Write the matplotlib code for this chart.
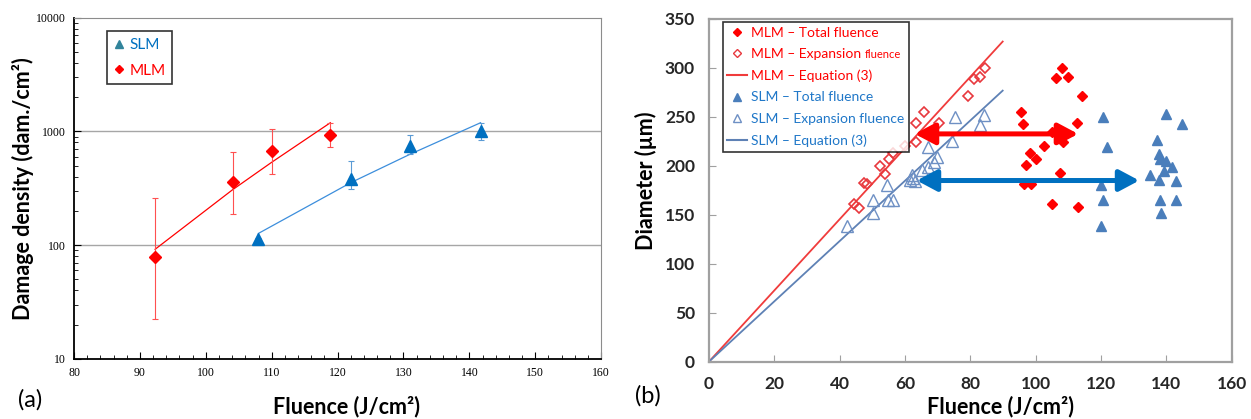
import matplotlib
matplotlib.use("Agg")
import matplotlib.pyplot as plt
from matplotlib.lines import Line2D
from matplotlib.ticker import MultipleLocator, LogLocator, NullFormatter

# ---- panel (a): damage density vs fluence (log scale) ----
mlm_fluence = [92.3, 104.1, 110.0, 118.9]
mlm_density = [79, 357, 672, 930]
mlm_err_lo = [22.5, 189, 422, 729]
mlm_err_hi = [261, 655, 1050, 1191]
mlm_fit_f = [92.3, 104.0, 110.0, 118.9]
mlm_fit_d = [92, 305, 535, 1190]

slm_fluence = [107.9, 122.0, 131.0, 141.7]
slm_density = [113, 380, 748, 1009]
slm_err_lo = [110, 312, 629, 840]
slm_err_hi = [116, 546, 923, 1190]
slm_fit_f = [108.0, 122.0, 131.0, 141.7]
slm_fit_d = [127, 354, 629, 1190]

# ---- panel (b): diameter vs fluence ----
mlm_tot_f = [107.9, 106.2, 110.0, 114.1, 95.4, 96.2, 112.5, 104.9, 108.4, 102.5,
             98.3, 100.0, 96.9, 107.4, 96.5, 98.6, 104.9, 113.0]
mlm_tot_d = [299.7, 290, 290.5, 271.7, 255, 243, 244, 234.6, 224.4, 220.6,
             213.2, 207.4, 200.6, 192.4, 181.8, 181.8, 161, 157.7]
mlm_exp_f = [44.3, 45.8, 47.5, 48.5, 52.3, 53.9, 55.2, 56.4, 60.0, 63.4, 63.4,
             65.9, 70.4, 79.2, 81.1, 82.9, 84.5]
mlm_exp_d = [161.4, 157, 182.5, 181.2, 200, 192, 207.4, 213.5, 220.6, 243.5, 224.7,
             254.7, 244.1, 271.4, 288.8, 290.5, 299.7]
mlm_eq_f = [0, 89.9]
mlm_eq_d = [0, 326.9]

slm_tot_f = [120.7, 121.9, 120.0, 120.7, 120.0, 139.9, 144.7, 137.0, 137.7, 138.0,
             139.8, 141.6, 139.4, 135.0, 137.8, 142.9, 137.9, 142.9, 138.4]
slm_tot_d = [249.6, 219.6, 180.2, 165.2, 139, 252.7, 242.8, 226.5, 211.8, 207,
             205.3, 199.2, 194.8, 191, 185.6, 184.6, 165.2, 165.2, 152.2]
slm_exp_f = [42.2, 50.3, 50.3, 54.6, 54.9, 56.4, 61.5, 63.1, 62.0, 65.1, 66.9, 67.1,
             68.9, 69.7, 75.3, 74.3, 84.3, 83.0, 62.5]
slm_exp_d = [138.6, 165.2, 151.6, 180.2, 165.2, 165.2, 185.6, 184.6, 190.7, 195.8,
             219.6, 199.2, 204.3, 209.4, 249.6, 225.7, 252, 242.1, 187.3]
slm_eq_f = [0, 89.9]
slm_eq_d = [0, 276.8]

mlm_arrow = [(63.0, 232.6), (113.0, 232.6)]
slm_arrow = [(63.6, 185.0), (131.7, 185.0)]

RED = "#FF0000"
BLUE = "#0070C0"
LBLUE = "#3C8EDC"
STEEL = "#4A7EBB"
SANS = ["Lato", "DejaVu Sans"]

fig = plt.figure(figsize=(12.51, 4.19), dpi=100)

# ---------------- (a) ----------------
ax1 = fig.add_axes([0.0592, 0.1432, 0.4213, 0.815])
ax1.set_yscale("log")
ax1.set_xlim(80, 160)
ax1.set_ylim(10, 10000)
for yv in [100, 1000]:
    ax1.axhline(yv, color="#A6A6A6", lw=1.0, zorder=0)

ax1.plot(mlm_fit_f, mlm_fit_d, color=RED, lw=0.9, zorder=2)
ax1.plot(slm_fit_f, slm_fit_d, color=LBLUE, lw=0.9, zorder=2)

yerr_m = [[d - lo for d, lo in zip(mlm_density, mlm_err_lo)],
          [hi - d for d, hi in zip(mlm_density, mlm_err_hi)]]
yerr_s = [[d - lo for d, lo in zip(slm_density, slm_err_lo)],
          [hi - d for d, hi in zip(slm_density, slm_err_hi)]]
ax1.errorbar(mlm_fluence, mlm_density, yerr=yerr_m, fmt="D", color=RED, ms=6,
             ecolor="#FF5050", elinewidth=0.8, capsize=2, capthick=0.8, zorder=3)
ax1.errorbar(slm_fluence, slm_density, yerr=yerr_s, fmt="^", color=BLUE, ms=8,
             ecolor="#5B9BD5", elinewidth=0.8, capsize=2, capthick=0.8, zorder=3)

ax1.xaxis.set_major_locator(MultipleLocator(10))
ax1.xaxis.set_minor_locator(MultipleLocator(2))
ax1.yaxis.set_minor_locator(LogLocator(base=10, subs=range(2, 10), numticks=20))
ax1.yaxis.set_minor_formatter(NullFormatter())
ax1.tick_params(axis="both", which="both", direction="in", colors="black")
ax1.tick_params(axis="both", which="major", length=5, pad=6)
ax1.tick_params(axis="both", which="minor", length=3)
ax1.set_yticks([10, 100, 1000, 10000])
ax1.set_yticklabels(["10", "100", "1000", "10000"])
for lab in ax1.get_xticklabels() + ax1.get_yticklabels():
    lab.set_fontfamily("Liberation Serif")
    lab.set_fontsize(8.5)
for s in ["top", "right"]:
    ax1.spines[s].set_color("#8C8C8C")
for s in ["left", "bottom"]:
    ax1.spines[s].set_color("black")
    ax1.spines[s].set_linewidth(1.3)

h1 = [Line2D([], [], marker="^", color="#31849B", ls="none", ms=6),
      Line2D([], [], marker="D", color=RED, ls="none", ms=4.5)]
leg1 = ax1.legend(h1, ["SLM", "MLM"], loc="upper left", bbox_to_anchor=(0.063, 0.96),
                  borderaxespad=0, frameon=True, fancybox=False, edgecolor="black",
                  handlelength=0.6, handletextpad=0.4, labelspacing=0.75,
                  borderpad=0.45, prop={"family": SANS, "size": 11})
leg1.get_frame().set_linewidth(1.2)
leg1.get_texts()[0].set_color(BLUE)
leg1.get_texts()[1].set_color(RED)

fig.text(0.0184, 0.550, "Damage density (dam./cm²)", rotation=90, ha="center", va="center",
         fontsize=15.5, fontweight="bold", family=SANS)
fig.text(0.2766, 0.031, "Fluence (J/cm²)", ha="center", va="center",
         fontsize=15.5, fontweight="bold", family=SANS)
fig.text(0.0144, 0.045, "(a)", ha="left", va="center", fontsize=17, family=SANS)

# ---------------- (b) ----------------
ax2 = fig.add_axes([0.5667, 0.1368, 0.4179, 0.818])
ax2.set_xlim(0, 160)
ax2.set_ylim(0, 350)

ax2.plot(mlm_eq_f, mlm_eq_d, color="#F03C3C", lw=1.3, zorder=2)
ax2.plot(slm_eq_f, slm_eq_d, color="#5E81B5", lw=1.3, zorder=2)
ax2.plot(mlm_exp_f, mlm_exp_d, "D", mfc="none", mec="#E8383D", mew=1.2, ms=5.5, ls="none", zorder=3)
ax2.plot(slm_exp_f, slm_exp_d, "^", mfc="none", mec="#6E90C4", mew=1.0, ms=8, ls="none", zorder=3)
ax2.plot(mlm_tot_f, mlm_tot_d, "D", color=RED, ms=5.5, ls="none", zorder=3)
ax2.plot(slm_tot_f, slm_tot_d, "^", color=STEEL, ms=7.5, ls="none", zorder=3)

for (p0, p1), col in [(mlm_arrow, RED), (slm_arrow, BLUE)]:
    ax2.annotate("", xy=p1, xytext=p0,
                 arrowprops=dict(arrowstyle="<|-|>,head_length=0.6,head_width=0.32",
                                 color=col, lw=3.6, mutation_scale=20,
                                 shrinkA=0, shrinkB=0), zorder=4)

ax2.xaxis.set_major_locator(MultipleLocator(20))
ax2.yaxis.set_major_locator(MultipleLocator(50))
ax2.tick_params(axis="both", direction="in", length=5, color="#A0A0A0", labelcolor="#262626",
                labelsize=12.5, pad=10)
for lab in ax2.get_xticklabels() + ax2.get_yticklabels():
    lab.set_fontweight("bold")
    lab.set_fontfamily(SANS)
for s in ax2.spines.values():
    s.set_color("#A0A0A0")
    s.set_linewidth(1.6)

h2 = [Line2D([], [], marker="D", color=RED, ls="none", ms=4.5),
      Line2D([], [], marker="D", mfc="none", mec="#E8383D", ls="none", ms=4.5),
      Line2D([], [], color="#F03C3C", lw=1.5),
      Line2D([], [], marker="^", color=STEEL, ls="none", ms=6),
      Line2D([], [], marker="^", mfc="none", mec="#6E90C4", ls="none", ms=6),
      Line2D([], [], color="#5E81B5", lw=1.5)]
labels2 = ["MLM – Total fluence", "MLM – Expansion", "MLM – Equation (3)",
           "SLM – Total fluence", "SLM – Expansion fluence", "SLM – Equation (3)"]
leg2 = ax2.legend(h2, labels2, loc="upper left", bbox_to_anchor=(0.026, 0.992),
                  borderaxespad=0, frameon=True, fancybox=False, edgecolor="black",
                  handlelength=1.4, handletextpad=0.3, labelspacing=0.68,
                  borderpad=0.35, prop={"family": SANS, "size": 10})
leg2.get_frame().set_linewidth(1.2)
for i, t in enumerate(leg2.get_texts()):
    t.set_color(RED if i < 3 else "#1F77C8")

fig.text(0.5164, 0.569, "Diameter (µm)", rotation=90, ha="center", va="center",
         fontsize=15.5, fontweight="bold", family=SANS)
fig.text(0.800, 0.031, "Fluence (J/cm²)", ha="center", va="center",
         fontsize=15.5, fontweight="bold", family=SANS)
fig.text(0.5076, 0.055, "(b)", ha="left", va="center", fontsize=17, family=SANS)

# small "fluence" after the expansion label, as in the original
fig.canvas.draw()
bb = leg2.get_texts()[1].get_window_extent()
fig.text((bb.x1 + 4) / fig.bbox.width, bb.y0 / fig.bbox.height, "fluence",
         ha="left", va="bottom", fontsize=8, color=RED, family=SANS, zorder=10)

fig.savefig("out.png", dpi=100)
